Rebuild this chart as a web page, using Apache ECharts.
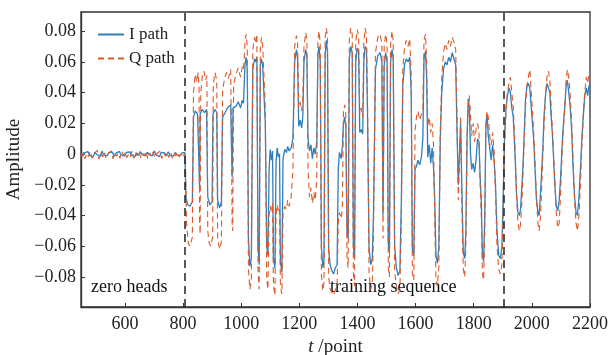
<!DOCTYPE html>
<html>
<head>
<meta charset="utf-8">
<script src="https://cdn.jsdelivr.net/npm/echarts@6/dist/echarts.min.js"></script>
<style>
  html, body { margin: 0; padding: 0; background: #fff; }
  #chart { width: 611px; height: 355px; }
</style>
</head>
<body>
<div id="chart"></div>
<script>
// x ticks / y ticks
var xTicks = [600, 800, 1000, 1200, 1400, 1600, 1800, 2000, 2200];
var yTicks = [-0.08, -0.06, -0.04, -0.02, 0, 0.02, 0.04, 0.06, 0.08];

// boundaries between sections (t /point)
var sectionMarks = [807, 1904];

// zero heads: samples every 6 points
var headStart = 449;
var headStep = 6;
var iHead = [0.0005,-0.0012,0.0008,-0.0004,0.0015,-0.0009,0.0002,-0.0018,0.0011,-0.0003,0.0007,-0.0014,0.0019,-0.0006,0.0003,-0.0011,0.0009,-0.0002,0.0013,-0.0016,0.0004,-0.0008,0.0017,-0.0005,0.0006,-0.0013,0.0010,-0.0001,0.0014,-0.0009,0.0002,-0.0015,0.0008,-0.0007,0.0016,-0.0004,0.0005,-0.0012,0.0012,-0.0003,0.0009,-0.0010,0.0020,-0.0006,0.0003,-0.0017,0.0011,-0.0002,0.0007,-0.0011,0.0015,-0.0008,0.0004,-0.0014,0.0010,-0.0005,0.0006,-0.0009,0.0008,-0.0003];
var qHead = [-0.0021,0.0012,-0.0030,0.0005,-0.0016,0.0019,-0.0027,0.0002,-0.0011,0.0024,-0.0033,0.0008,-0.0019,0.0014,-0.0025,0.0003,-0.0009,0.0021,-0.0031,0.0010,-0.0014,0.0006,-0.0028,0.0017,-0.0007,0.0011,-0.0023,0.0001,-0.0018,0.0022,-0.0029,0.0009,-0.0012,0.0015,-0.0026,0.0004,-0.0010,0.0020,-0.0032,0.0007,-0.0017,0.0013,-0.0024,0.0002,-0.0008,0.0018,-0.0030,0.0011,-0.0015,0.0005,-0.0022,0.0016,-0.0027,0.0003,-0.0013,0.0012,-0.0020,0.0006,-0.0011,-0.0004];

// training sequence + payload, I path  [t, amplitude]
var iPath = [
  [806,0.001],[810,-0.028],[816,-0.033],[824,-0.034],[832,-0.031],[836,0.024],[842,0.028],[850,0.026],[855,0.027],[857,-0.022],[859,0.026],
  [866,0.029],[874,0.027],[881,0.029],[885,-0.028],[892,-0.033],[900,-0.031],[903,0.026],[910,0.029],[916,0.027],[919,-0.030],[926,-0.035],
  [932,-0.031],[936,0.024],[945,0.027],[952,0.030],[958,0.029],[964,0.032],[969,-0.015],[972,0.030],[982,0.031],[990,0.034],[998,0.030],
  [1004,0.035],[1008,0.033],[1013,0.058],[1017,0.063],[1021,0.055],[1025,-0.055],[1030,-0.073],[1035,-0.068],[1040,0.055],[1046,0.062],
  [1050,0.060],[1054,0.063],[1058,-0.060],[1062,-0.072],[1066,0.058],[1070,0.062],[1074,0.057],[1083,0.020],[1088,-0.060],[1092,-0.066],
  [1096,-0.010],[1100,0.003],[1104,-0.004],[1108,0.002],[1111,-0.068],[1116,-0.074],[1120,-0.005],[1124,0.004],[1128,-0.002],[1132,0.000],
  [1135,-0.070],[1140,-0.077],[1144,-0.003],[1150,0.003],[1156,0.001],[1160,0.005],[1165,0.002],[1172,0.004],[1178,0.010],[1184,0.060],
  [1190,0.068],[1194,0.062],[1198,0.018],[1203,0.022],[1208,0.017],[1212,0.024],[1216,0.060],[1222,0.068],[1226,0.064],[1230,0.010],
  [1235,0.002],[1240,0.006],[1245,-0.003],[1250,0.004],[1255,0.000],[1260,0.008],[1264,0.065],[1268,0.070],[1272,0.060],[1276,-0.060],
  [1281,-0.074],[1285,-0.068],[1289,0.065],[1293,0.074],[1297,0.066],[1301,-0.062],[1306,-0.072],[1312,-0.076],[1318,-0.078],[1324,-0.074],
  [1330,-0.072],[1334,-0.010],[1338,0.001],[1344,-0.003],[1348,0.004],[1352,0.020],[1356,0.024],[1360,0.018],[1364,-0.050],[1368,-0.055],
  [1372,0.062],[1377,0.070],[1382,0.066],[1386,-0.060],[1390,-0.068],[1394,0.060],[1399,0.069],[1404,0.066],[1408,0.014],[1413,0.016],
  [1418,0.013],[1422,0.060],[1426,0.070],[1431,0.068],[1435,0.020],[1440,-0.062],[1446,-0.072],[1451,-0.068],[1455,-0.040],[1462,0.055],
  [1470,0.064],[1478,0.066],[1484,0.060],[1488,-0.040],[1492,0.058],[1497,0.066],[1502,0.060],[1506,-0.058],[1510,-0.064],[1514,0.060],
  [1519,0.068],[1523,0.062],[1528,-0.060],[1534,-0.074],[1540,-0.079],[1546,-0.076],[1551,-0.030],[1556,0.045],[1562,0.058],[1568,0.062],
  [1574,0.060],[1580,0.063],[1585,0.040],[1589,-0.062],[1594,-0.066],[1598,-0.010],[1603,-0.008],[1608,-0.004],[1614,-0.007],[1620,-0.002],
  [1625,0.010],[1629,0.062],[1634,0.067],[1638,0.050],[1642,-0.002],[1647,0.006],[1652,-0.006],[1657,0.004],[1662,-0.010],[1666,-0.030],
  [1670,-0.066],[1675,-0.071],[1680,-0.060],[1685,0.010],[1690,0.040],[1696,0.055],[1702,0.060],[1708,0.058],[1714,0.063],[1720,0.060],
  [1726,0.066],[1732,0.062],[1738,0.058],[1743,0.010],[1747,-0.020],[1751,0.000],[1755,0.020],[1759,-0.020],[1764,-0.064],[1769,-0.068],
  [1773,-0.050],[1777,0.010],[1781,0.036],[1785,0.030],[1789,0.000],[1793,-0.010],[1798,-0.006],[1803,-0.012],[1808,-0.004],[1813,0.010],
  [1818,0.008],[1822,-0.015],[1826,-0.030],[1830,-0.066],[1834,-0.070],[1838,-0.040],[1842,0.020],[1846,0.026],[1850,0.012],[1855,0.004],
  [1860,-0.004],[1865,0.006],[1870,-0.004],[1875,-0.020],[1880,-0.050],[1886,-0.066],[1892,-0.068],[1897,-0.060],[1901,-0.030],[1906,0.010],
  [1911,0.030],[1916,0.038],[1921,0.043],[1926,0.040],[1931,0.030],[1936,0.024],[1942,0.000],[1947,-0.025],[1952,-0.038],[1957,-0.040],
  [1961,-0.036],[1966,-0.020],[1970,-0.005],[1974,0.015],[1978,0.035],[1983,0.044],[1988,0.046],[1993,0.043],[1998,0.030],[2002,0.020],
  [2006,0.010],[2011,-0.010],[2016,-0.030],[2021,-0.038],[2025,-0.040],[2030,-0.025],[2034,-0.010],[2038,0.005],[2042,0.025],[2047,0.038],
  [2052,0.046],[2057,0.047],[2062,0.040],[2066,0.025],[2070,0.015],[2074,0.000],[2079,-0.020],[2084,-0.034],[2089,-0.037],[2094,-0.030],
  [2099,-0.015],[2104,0.005],[2108,0.018],[2113,0.030],[2118,0.045],[2122,0.048],[2127,0.040],[2132,0.030],[2137,0.015],[2142,-0.010],
  [2147,-0.028],[2152,-0.038],[2157,-0.040],[2162,-0.028],[2167,-0.010],[2172,0.010],[2177,0.025],[2182,0.038],[2187,0.043],[2192,0.038],
  [2196,0.044],[2200,0.046]
];

// Q path  [t, amplitude]
var qPath = [
  [808,0.000],[812,-0.045],[818,-0.058],[824,-0.060],[832,-0.054],[836,0.040],[842,0.052],[848,0.047],[852,0.053],[855,0.045],[857,-0.045],
  [859,-0.052],[861,0.040],[866,0.050],[872,0.054],[878,0.048],[882,0.051],[885,-0.050],[890,-0.058],[896,-0.060],[902,-0.054],[904,0.045],
  [910,0.053],[916,0.048],[919,-0.055],[926,-0.062],[932,-0.057],[936,0.042],[944,0.050],[950,0.053],[956,0.049],[964,0.055],[969,-0.045],
  [971,-0.050],[974,0.045],[982,0.052],[990,0.056],[998,0.050],[1004,0.057],[1008,0.055],[1013,0.072],[1017,0.078],[1021,0.070],[1025,-0.075],
  [1030,-0.088],[1035,-0.082],[1040,0.068],[1046,0.076],[1050,0.072],[1054,0.078],[1058,-0.078],[1062,-0.088],[1066,0.070],[1070,0.076],
  [1074,0.070],[1083,0.030],[1088,-0.082],[1092,-0.088],[1096,-0.040],[1100,-0.034],[1104,-0.038],[1108,-0.032],[1111,-0.085],[1116,-0.092],
  [1120,-0.040],[1124,-0.033],[1128,-0.037],[1132,-0.035],[1135,-0.086],[1140,-0.091],[1144,-0.038],[1150,-0.034],[1156,-0.036],[1160,-0.030],
  [1165,-0.034],[1172,-0.028],[1178,-0.010],[1184,0.070],[1190,0.077],[1194,0.072],[1198,0.030],[1203,0.034],[1208,0.028],[1212,0.036],
  [1216,0.070],[1222,0.079],[1226,0.074],[1230,-0.010],[1235,-0.028],[1240,-0.022],[1245,-0.032],[1250,-0.025],[1255,-0.030],[1260,-0.015],
  [1264,0.074],[1268,0.080],[1272,0.072],[1276,-0.078],[1281,-0.089],[1285,-0.084],[1289,0.076],[1293,0.082],[1297,0.076],[1301,-0.080],
  [1306,-0.088],[1312,-0.090],[1318,-0.092],[1324,-0.088],[1330,-0.085],[1334,-0.045],[1338,-0.038],[1344,-0.042],[1348,-0.035],[1352,0.028],
  [1356,0.032],[1360,0.026],[1364,-0.068],[1368,-0.074],[1372,0.074],[1377,0.082],[1382,0.078],[1386,-0.078],[1390,-0.086],[1394,0.072],
  [1399,0.081],[1404,0.077],[1408,0.026],[1413,0.030],[1418,0.024],[1422,0.072],[1426,0.082],[1431,0.078],[1435,0.030],[1440,-0.078],
  [1446,-0.088],[1451,-0.084],[1455,-0.055],[1462,0.066],[1470,0.076],[1478,0.078],[1484,0.072],[1488,-0.055],[1492,0.070],[1497,0.078],
  [1502,0.072],[1506,-0.074],[1510,-0.080],[1514,0.072],[1519,0.080],[1523,0.074],[1528,-0.076],[1534,-0.086],[1540,-0.091],[1546,-0.088],
  [1551,-0.045],[1556,0.055],[1562,0.070],[1568,0.074],[1574,0.070],[1580,0.075],[1585,0.050],[1589,-0.078],[1594,-0.082],[1598,0.015],
  [1603,0.024],[1608,0.028],[1614,0.022],[1620,0.026],[1625,0.030],[1629,0.074],[1634,0.078],[1638,0.060],[1642,0.018],[1647,0.024],
  [1652,0.014],[1657,0.020],[1662,0.005],[1666,-0.045],[1670,-0.080],[1675,-0.086],[1680,-0.074],[1685,0.015],[1690,0.050],[1696,0.066],
  [1702,0.072],[1708,0.068],[1714,0.074],[1720,0.070],[1726,0.076],[1732,0.073],[1738,0.068],[1743,0.020],[1747,-0.030],[1751,-0.005],
  [1755,0.025],[1759,-0.030],[1764,-0.075],[1769,-0.080],[1773,-0.060],[1777,0.010],[1781,0.030],[1785,0.038],[1789,0.025],[1793,0.012],
  [1798,0.020],[1803,0.008],[1808,0.016],[1813,0.020],[1818,0.015],[1822,-0.020],[1826,-0.040],[1830,-0.078],[1834,-0.082],[1838,-0.050],
  [1842,0.020],[1846,0.028],[1850,0.024],[1855,0.012],[1860,0.006],[1865,0.014],[1870,0.002],[1875,-0.025],[1880,-0.060],[1886,-0.075],
  [1892,-0.078],[1897,-0.072],[1901,-0.040],[1906,0.005],[1911,0.028],[1916,0.040],[1921,0.046],[1926,0.050],[1931,0.040],[1936,0.030],
  [1942,0.005],[1947,-0.025],[1952,-0.045],[1957,-0.050],[1961,-0.046],[1966,-0.030],[1970,-0.010],[1974,0.010],[1978,0.030],[1983,0.045],
  [1988,0.050],[1993,0.055],[1998,0.040],[2002,0.028],[2006,0.015],[2011,-0.005],[2016,-0.030],[2021,-0.045],[2025,-0.050],[2030,-0.040],
  [2034,-0.020],[2038,0.000],[2042,0.020],[2047,0.038],[2052,0.050],[2057,0.054],[2062,0.048],[2066,0.032],[2070,0.018],[2074,0.004],
  [2079,-0.018],[2084,-0.038],[2089,-0.048],[2094,-0.045],[2099,-0.025],[2104,0.000],[2108,0.015],[2113,0.030],[2118,0.048],[2122,0.055],
  [2127,0.050],[2132,0.038],[2137,0.020],[2142,-0.005],[2147,-0.030],[2152,-0.045],[2157,-0.050],[2162,-0.040],[2167,-0.020],[2172,0.005],
  [2177,0.025],[2182,0.040],[2187,0.050],[2192,0.046],[2196,0.052],[2200,0.055]
];

var FONT = '"Liberation Serif", "DejaVu Serif", serif';
var I_COLOR = '#2f7fbd';
var Q_COLOR = '#da5a2a';

function headPairs(arr, start) {
  var out = [];
  arr.forEach(function (v, k) { out.push([start + headStep * k, v]); });
  return out;
}
var iData = headPairs(iHead, headStart).concat(iPath);
var qData = headPairs(qHead, headStart + 2).concat(qPath);

function fmtY(v) {
  if (Math.abs(v) < 1e-9) return '0';
  return v.toFixed(2).replace('-', '\u2212');
}

var chart = echarts.init(document.getElementById('chart'), null, { renderer: 'canvas' });

var option = {
  animation: false,
  backgroundColor: '#fff',
  grid: {
    left: 81, right: 21, top: 12, bottom: 48,
    containLabel: false,
    outerBoundsMode: 'none',
    show: true, borderColor: '#333', borderWidth: 1.3, backgroundColor: 'transparent'
  },
  legend: {
    orient: 'vertical',
    left: 92, top: 21,
    itemWidth: 26, itemHeight: 12, itemGap: 7,
    itemStyle: { opacity: 0 },
    textStyle: { fontFamily: FONT, fontSize: 17, color: '#222' },
    data: ['I path', 'Q path']
  },
  xAxis: {
    type: 'value',
    min: 449, max: 2200,
    name: '{i|t} /point',
    nameLocation: 'middle',
    nameGap: 29,
    nameTextStyle: {
      fontFamily: FONT, fontSize: 19, color: '#222',
      rich: { i: { fontFamily: FONT, fontSize: 19, fontStyle: 'italic', color: '#222' } }
    },
    axisLine: { show: true, onZero: false, lineStyle: { color: '#333', width: 1.3 } },
    axisTick: { show: true, inside: true, length: 4, lineStyle: { color: '#333' }, customValues: xTicks },
    axisLabel: {
      fontFamily: FONT, fontSize: 18, color: '#222', margin: 8,
      customValues: xTicks,
      formatter: function (v) { return String(v); }
    },
    splitLine: { show: false }
  },
  yAxis: {
    type: 'value',
    min: -0.0995, max: 0.0924,
    name: 'Amplitude',
    nameLocation: 'middle',
    nameGap: 53,
    nameTextStyle: { fontFamily: FONT, fontSize: 19, color: '#222' },
    axisLine: { show: true, onZero: false, lineStyle: { color: '#333', width: 1.3 } },
    axisTick: { show: true, inside: true, length: 4, lineStyle: { color: '#333' }, customValues: yTicks },
    axisLabel: {
      fontFamily: FONT, fontSize: 18, color: '#222', margin: 5,
      customValues: yTicks,
      formatter: fmtY
    },
    splitLine: { show: false }
  },
  series: [
    {
      name: 'I path',
      type: 'line',
      data: iData,
      symbol: 'none',
      lineStyle: { color: I_COLOR, width: 1.3 },
      itemStyle: { color: I_COLOR },
      z: 2,
      markLine: {
        silent: true,
        symbol: 'none',
        label: { show: false },
        lineStyle: { color: '#222', width: 1.5, type: [8, 5] },
        data: sectionMarks.map(function (t) { return { xAxis: t }; })
      }
    },
    {
      name: 'Q path',
      type: 'line',
      data: qData,
      symbol: 'none',
      lineStyle: { color: Q_COLOR, width: 1.1, type: [6, 4] },
      itemStyle: { color: Q_COLOR },
      z: 3
    }
  ],
  graphic: [
    { type: 'text', left: 91, top: 278, style: { text: 'zero heads', fontFamily: FONT, fontSize: 18, fill: '#111' } },
    { type: 'text', left: 330, top: 278, style: { text: 'training sequence', fontFamily: FONT, fontSize: 18, fill: '#111' } }
  ]
};

chart.setOption(option);
</script>
</body>
</html>
